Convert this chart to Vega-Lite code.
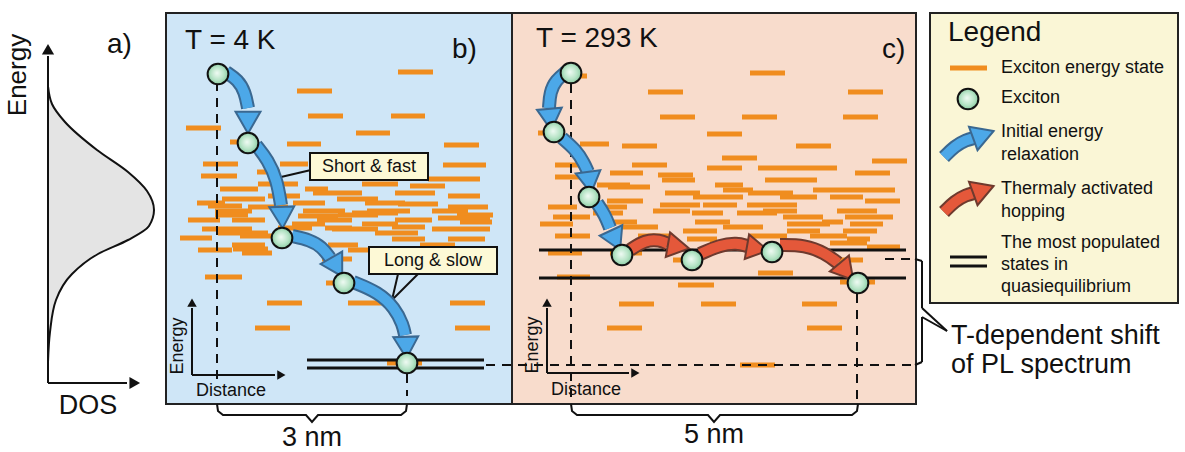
{
"$schema": "https://vega.github.io/schema/vega-lite/v6.json",
"width": 1185, "height": 452, "padding": 0, "autosize": {"type": "none"},
"background": "#ffffff",
"config": {"view": {"stroke": null}, "text": {"font": "Liberation Sans", "color": "#111111"}},
"datasets": {
"rects": [
 {"x": 166, "x2": 512, "y": 13, "y2": 404, "k": "b"},
 {"x": 512, "x2": 916, "y": 13, "y2": 404, "k": "c"},
 {"x": 930, "x2": 1178, "y": 13, "y2": 303, "k": "l"}
],
"dos": [
 {"x": 48, "y": 86}, {"x": 52, "y": 104}, {"x": 65, "y": 122}, {"x": 97, "y": 150}, {"x": 128, "y": 172},
 {"x": 147, "y": 191}, {"x": 154, "y": 210}, {"x": 149, "y": 226}, {"x": 128, "y": 240}, {"x": 98, "y": 254},
 {"x": 72, "y": 274}, {"x": 56, "y": 300}, {"x": 50, "y": 332}, {"x": 48, "y": 362}
],
"dashes": [
 {"x":398,"x2":433,"y":72},{"x":297,"x2":332,"y":91},{"x":308,"x2":343,"y":116},{"x":391,"x2":425,"y":116},
 {"x":186,"x2":221,"y":128},{"x":356,"x2":390,"y":133},{"x":287,"x2":321,"y":144},{"x":444,"x2":479,"y":145},
 {"x":230,"x2":246,"y":142},{"x":203,"x2":238,"y":164},{"x":280,"x2":308,"y":164},{"x":443,"x2":486,"y":165},
 {"x":201,"x2":237,"y":176},{"x":257,"x2":280,"y":172},{"x":428,"x2":480,"y":179},{"x":258,"x2":298,"y":184},
 {"x":362,"x2":398,"y":184},{"x":220,"x2":258,"y":189},{"x":305,"x2":328,"y":189},{"x":313,"x2":362,"y":193},
 {"x":395,"x2":435,"y":193},{"x":448,"x2":480,"y":196},{"x":222,"x2":265,"y":199},{"x":337,"x2":378,"y":199},
 {"x":197,"x2":225,"y":203},{"x":293,"x2":325,"y":203},{"x":365,"x2":405,"y":203},{"x":398,"x2":438,"y":204},
 {"x":248,"x2":288,"y":207},{"x":448,"x2":488,"y":207},{"x":215,"x2":252,"y":211},{"x":303,"x2":345,"y":211},
 {"x":367,"x2":410,"y":211},{"x":432,"x2":468,"y":211},{"x":215,"x2":248,"y":215},{"x":338,"x2":378,"y":215},
 {"x":457,"x2":493,"y":215},{"x":188,"x2":220,"y":220},{"x":232,"x2":265,"y":220},{"x":317,"x2":352,"y":220},
 {"x":395,"x2":432,"y":220},{"x":292,"x2":325,"y":224},{"x":362,"x2":398,"y":224},{"x":202,"x2":252,"y":229},
 {"x":332,"x2":378,"y":229},{"x":432,"x2":490,"y":229},{"x":218,"x2":268,"y":233},{"x":375,"x2":418,"y":233},
 {"x":240,"x2":272,"y":236},{"x":392,"x2":425,"y":239},{"x":448,"x2":485,"y":239},{"x":232,"x2":265,"y":245},
 {"x":328,"x2":358,"y":245},{"x":198,"x2":232,"y":250},{"x":233,"x2":268,"y":249},{"x":348,"x2":385,"y":250},
 {"x":242,"x2":272,"y":253},{"x":322,"x2":352,"y":259},{"x":205,"x2":242,"y":277},{"x":326,"x2":342,"y":283},
 {"x":267,"x2":302,"y":303},{"x":348,"x2":385,"y":303},{"x":450,"x2":485,"y":303},{"x":255,"x2":290,"y":328},
 {"x":455,"x2":490,"y":328},{"x":387,"x2":422,"y":363},
 {"x":208,"x2":242,"y":206},{"x":298,"x2":338,"y":216},{"x":352,"x2":398,"y":213},{"x":438,"x2":490,"y":218},
 {"x":325,"x2":352,"y":228},{"x":392,"x2":425,"y":227},{"x":268,"x2":300,"y":196},{"x":410,"x2":445,"y":186},
 {"x":180,"x2":212,"y":238},{"x":460,"x2":492,"y":222},{"x":278,"x2":312,"y":228},{"x":420,"x2":455,"y":245},
 {"x":750,"x2":785,"y":73},{"x":648,"x2":683,"y":92},{"x":848,"x2":883,"y":92},{"x":660,"x2":695,"y":117},
 {"x":742,"x2":777,"y":117},{"x":843,"x2":878,"y":117},{"x":707,"x2":742,"y":134},{"x":573,"x2":587,"y":76},
 {"x":538,"x2":553,"y":133},{"x":580,"x2":609,"y":144},{"x":622,"x2":657,"y":146},{"x":796,"x2":831,"y":146},
 {"x":722,"x2":757,"y":158},{"x":872,"x2":907,"y":161},{"x":555,"x2":580,"y":165},{"x":632,"x2":667,"y":165},
 {"x":707,"x2":742,"y":168},{"x":758,"x2":793,"y":168},{"x":793,"x2":837,"y":168},{"x":610,"x2":643,"y":173},
 {"x":855,"x2":890,"y":173},{"x":658,"x2":693,"y":175},{"x":555,"x2":587,"y":177},{"x":662,"x2":695,"y":180},
 {"x":765,"x2":817,"y":180},{"x":597,"x2":630,"y":185},{"x":715,"x2":743,"y":185},{"x":608,"x2":650,"y":187},
 {"x":723,"x2":753,"y":190},{"x":813,"x2":860,"y":190},{"x":860,"x2":895,"y":190},{"x":665,"x2":700,"y":193},
 {"x":748,"x2":793,"y":193},{"x":693,"x2":743,"y":197},{"x":780,"x2":817,"y":197},{"x":830,"x2":863,"y":197},
 {"x":607,"x2":643,"y":201},{"x":865,"x2":900,"y":201},{"x":660,"x2":700,"y":205},{"x":703,"x2":737,"y":205},
 {"x":747,"x2":797,"y":205},{"x":548,"x2":577,"y":207},{"x":593,"x2":627,"y":207},{"x":653,"x2":690,"y":211},
 {"x":763,"x2":797,"y":211},{"x":837,"x2":877,"y":211},{"x":593,"x2":623,"y":213},{"x":692,"x2":723,"y":213},
 {"x":737,"x2":777,"y":213},{"x":553,"x2":590,"y":217},{"x":783,"x2":823,"y":217},{"x":845,"x2":893,"y":217},
 {"x":695,"x2":730,"y":222},{"x":603,"x2":637,"y":222},{"x":822,"x2":843,"y":222},{"x":540,"x2":573,"y":224},
 {"x":787,"x2":830,"y":224},{"x":850,"x2":883,"y":224},{"x":622,"x2":658,"y":227},{"x":723,"x2":763,"y":227},
 {"x":683,"x2":717,"y":231},{"x":787,"x2":820,"y":231},{"x":843,"x2":877,"y":231},{"x":555,"x2":590,"y":236},
 {"x":638,"x2":673,"y":236},{"x":750,"x2":787,"y":236},{"x":810,"x2":847,"y":236},{"x":687,"x2":717,"y":239},
 {"x":847,"x2":870,"y":239},{"x":830,"x2":867,"y":243},{"x":637,"x2":667,"y":243},{"x":710,"x2":750,"y":243},
 {"x":867,"x2":900,"y":247},{"x":548,"x2":582,"y":253},{"x":610,"x2":642,"y":253},{"x":830,"x2":863,"y":260},
 {"x":673,"x2":697,"y":260},{"x":758,"x2":793,"y":273},{"x":557,"x2":590,"y":277},{"x":840,"x2":875,"y":282},
 {"x":678,"x2":714,"y":285},{"x":619,"x2":654,"y":304},{"x":701,"x2":736,"y":304},{"x":802,"x2":837,"y":304},
 {"x":607,"x2":642,"y":328},{"x":807,"x2":842,"y":328},{"x":740,"x2":775,"y":365},
 {"x":950,"x2":987,"y":68}
],
"blacklines": [
 {"x":307,"x2":484,"y":360},{"x":307,"x2":484,"y":368},{"x":539,"x2":906,"y":250},{"x":539,"x2":906,"y":278},
 {"x":950,"x2":987,"y":257},{"x":950,"x2":987,"y":266}
],
"dashed": [
 {"x":217,"y":82,"x2":217,"y2":380},{"x":407,"y":374,"x2":407,"y2":396},{"x":571,"y":84,"x2":571,"y2":404},
 {"x":857,"y":294,"x2":857,"y2":404},{"x":486,"y":365,"x2":918,"y2":365},{"x":885,"y":259,"x2":916,"y2":259}
],
"segs": [
 {"x":48,"y":383,"x2":48,"y2":56},{"x":48,"y":383,"x2":127,"y2":383},
 {"x":192,"y":375,"x2":192,"y2":308},{"x":192,"y":375,"x2":275,"y2":375},
 {"x":547,"y":373,"x2":547,"y2":308},{"x":547,"y":373,"x2":629,"y2":373},
 {"x":915,"y":259,"x2":922,"y2":261},{"x":922,"y":261,"x2":922,"y2":308},{"x":922,"y":308,"x2":947,"y2":331},
 {"x":947,"y":331,"x2":922,"y2":317},{"x":922,"y":317,"x2":922,"y2":362},{"x":922,"y":362,"x2":915,"y2":365},
 {"x":311,"y":170,"x2":281,"y2":177},{"x":398,"y":274,"x2":392,"y2":300},{"x":392,"y":300,"x2":418,"y2":274}
],
"braces": [
 {"id":"b","i":0,"x":217,"y":404},{"id":"b","i":1,"x":218,"y":411},{"id":"b","i":2,"x":223,"y":415},{"id":"b","i":3,"x":306,"y":415},
 {"id":"b","i":4,"x":312,"y":422},{"id":"b","i":5,"x":318,"y":415},{"id":"b","i":6,"x":401,"y":415},{"id":"b","i":7,"x":406,"y":411},{"id":"b","i":8,"x":407,"y":404},
 {"id":"c","i":0,"x":571,"y":404},{"id":"c","i":1,"x":572,"y":411},{"id":"c","i":2,"x":577,"y":415},{"id":"c","i":3,"x":708,"y":415},
 {"id":"c","i":4,"x":714,"y":422},{"id":"c","i":5,"x":720,"y":415},{"id":"c","i":6,"x":852,"y":415},{"id":"c","i":7,"x":857,"y":411},{"id":"c","i":8,"x":858,"y":404}
],
"boxes": [
 {"x":310,"x2":428,"y":153,"y2":180},{"x":369,"x2":497,"y":247,"y2":274}
],
"shafts": [
 {"id":"b1","t":"blue","i":0,"x":226,"y":72},{"id":"b1","t":"blue","i":1,"x":238,"y":80},{"id":"b1","t":"blue","i":2,"x":245,"y":92},{"id":"b1","t":"blue","i":3,"x":248,"y":108},
 {"id":"b2","t":"blue","i":0,"x":256,"y":145},{"id":"b2","t":"blue","i":1,"x":268,"y":160},{"id":"b2","t":"blue","i":2,"x":277,"y":180},{"id":"b2","t":"blue","i":3,"x":281,"y":205},
 {"id":"b3","t":"blue","i":0,"x":292,"y":236},{"id":"b3","t":"blue","i":1,"x":310,"y":240},{"id":"b3","t":"blue","i":2,"x":322,"y":247},{"id":"b3","t":"blue","i":3,"x":330,"y":258},
 {"id":"b4","t":"blue","i":0,"x":353,"y":282},{"id":"b4","t":"blue","i":1,"x":378,"y":292},{"id":"b4","t":"blue","i":2,"x":395,"y":308},{"id":"b4","t":"blue","i":3,"x":403,"y":325},{"id":"b4","t":"blue","i":4,"x":405,"y":335},
 {"id":"c1","t":"blue","i":0,"x":566,"y":72},{"id":"c1","t":"blue","i":1,"x":556,"y":80},{"id":"c1","t":"blue","i":2,"x":550,"y":92},{"id":"c1","t":"blue","i":3,"x":549,"y":108},
 {"id":"c2","t":"blue","i":0,"x":562,"y":138},{"id":"c2","t":"blue","i":1,"x":576,"y":150},{"id":"c2","t":"blue","i":2,"x":584,"y":163},{"id":"c2","t":"blue","i":3,"x":588,"y":172},
 {"id":"c3","t":"blue","i":0,"x":597,"y":203},{"id":"c3","t":"blue","i":1,"x":605,"y":215},{"id":"c3","t":"blue","i":2,"x":610,"y":228},
 {"id":"r1","t":"red","i":0,"x":630,"y":250},{"id":"r1","t":"red","i":1,"x":645,"y":240},{"id":"r1","t":"red","i":2,"x":660,"y":240},{"id":"r1","t":"red","i":3,"x":668,"y":244},
 {"id":"r2","t":"red","i":0,"x":700,"y":254},{"id":"r2","t":"red","i":1,"x":720,"y":245},{"id":"r2","t":"red","i":2,"x":737,"y":243},{"id":"r2","t":"red","i":3,"x":747,"y":246},
 {"id":"r3","t":"red","i":0,"x":780,"y":245},{"id":"r3","t":"red","i":1,"x":805,"y":245},{"id":"r3","t":"red","i":2,"x":825,"y":253},{"id":"r3","t":"red","i":3,"x":838,"y":263},
 {"id":"lb","t":"blue","i":0,"x":944,"y":157},{"id":"lb","t":"blue","i":1,"x":955,"y":146},{"id":"lb","t":"blue","i":2,"x":966,"y":140},{"id":"lb","t":"blue","i":3,"x":974,"y":138},
 {"id":"lr","t":"red","i":0,"x":944,"y":212},{"id":"lr","t":"red","i":1,"x":955,"y":201},{"id":"lr","t":"red","i":2,"x":966,"y":195},{"id":"lr","t":"red","i":3,"x":974,"y":193}
],
"heads": [
 {"x":248,"y":119,"a":180,"t":"blue"},{"x":282,"y":214,"a":178,"t":"blue"},{"x":335,"y":264,"a":150,"t":"blue"},
 {"x":406,"y":344,"a":178,"t":"blue"},{"x":550,"y":116,"a":175,"t":"blue"},{"x":589,"y":179,"a":172,"t":"blue"},
 {"x":614,"y":237,"a":155,"t":"blue"},{"x":675,"y":246,"a":100,"t":"red"},{"x":754,"y":248,"a":100,"t":"red"},
 {"x":844,"y":269,"a":140,"t":"red"},{"x":980,"y":136,"a":70,"t":"blue"},{"x":980,"y":191,"a":70,"t":"red"}
],
"tips": [
 {"x":48,"y":51,"a":0,"s":150},{"x":133,"y":383,"a":90,"s":150},{"x":192,"y":304,"a":0,"s":90},
 {"x":280,"y":375,"a":90,"s":90},{"x":547,"y":304,"a":0,"s":90},{"x":634,"y":373,"a":90,"s":90}
],
"excitons": [
 {"x":218,"y":74},{"x":248,"y":143},{"x":282,"y":238},{"x":344,"y":283},{"x":407,"y":363},
 {"x":571,"y":73},{"x":554,"y":132},{"x":589,"y":197},{"x":622,"y":255},{"x":692,"y":260},{"x":772,"y":252},{"x":858,"y":283},
 {"x":968,"y":99}
],
"ltext": [
 {"x":185,"y":41,"s":28,"t":"T = 4 K"},{"x":452,"y":50,"s":28,"t":"b)"},{"x":536,"y":39,"s":28,"t":"T = 293 K"},
 {"x":882,"y":50,"s":28,"t":"c)"},{"x":107,"y":45,"s":28,"t":"a)"},{"x":948,"y":33,"s":28,"t":"Legend"},
 {"x":1001,"y":68,"s":18,"t":"Exciton energy state"},{"x":1001,"y":98,"s":18,"t":"Exciton"},
 {"x":1001,"y":132,"s":18,"t":"Initial energy"},{"x":1001,"y":155,"s":18,"t":"relaxation"},
 {"x":1001,"y":189,"s":18,"t":"Thermaly activated"},{"x":1001,"y":212,"s":18,"t":"hopping"},
 {"x":1001,"y":243,"s":18,"t":"The most populated"},{"x":1001,"y":265,"s":18,"t":"states in"},
 {"x":1001,"y":287,"s":18,"t":"quasiequilibrium"},
 {"x":951,"y":336,"s":27,"t":"T-dependent shift"},{"x":951,"y":365,"s":27,"t":"of PL spectrum"}
],
"ctext": [
 {"x":88,"y":406,"s":27,"t":"DOS"},{"x":312,"y":438,"s":27,"t":"3 nm"},{"x":714,"y":435,"s":27,"t":"5 nm"},
 {"x":369,"y":167,"s":18,"t":"Short & fast"},{"x":433,"y":261,"s":18,"t":"Long & slow"},
 {"x":231,"y":391,"s":18,"t":"Distance"},{"x":586,"y":390,"s":18,"t":"Distance"}
],
"rtext": [
 {"x":18,"y":75,"s":26,"t":"Energy"},{"x":178,"y":346,"s":18,"t":"Energy"},{"x":533,"y":345,"s":18,"t":"Energy"}
]
},
"layer": [
 {"data": {"name": "rects"}, "mark": {"type": "rect", "stroke": "#222222", "strokeWidth": 2},
  "encoding": {
   "x": {"field": "x", "type": "quantitative", "scale": {"domain": [0, 1185], "nice": false, "zero": false}, "axis": null},
   "x2": {"field": "x2"},
   "y": {"field": "y", "type": "quantitative", "scale": {"domain": [0, 452], "nice": false, "zero": false, "reverse": true}, "axis": null},
   "y2": {"field": "y2"},
   "fill": {"field": "k", "type": "nominal", "scale": {"domain": ["b", "c", "l"], "range": ["#cfe6f7", "#f8dccc", "#faf6d6"]}, "legend": null}
  }},
 {"data": {"name": "dos"}, "mark": {"type": "area", "orient": "horizontal", "interpolate": "monotone", "fill": "#e4e4e4", "stroke": "#111111", "strokeWidth": 2},
  "encoding": {
   "x": {"field": "x", "type": "quantitative", "axis": null},
   "x2": {"datum": 48},
   "y": {"field": "y", "type": "quantitative", "axis": null}
  }},
 {"data": {"name": "dashes"}, "mark": {"type": "rule", "color": "#f08d1f", "strokeWidth": 5},
  "encoding": {
   "x": {"field": "x", "type": "quantitative", "axis": null}, "x2": {"field": "x2"},
   "y": {"field": "y", "type": "quantitative", "axis": null}
  }},
 {"data": {"name": "blacklines"}, "mark": {"type": "rule", "color": "#111111", "strokeWidth": 3},
  "encoding": {
   "x": {"field": "x", "type": "quantitative", "axis": null}, "x2": {"field": "x2"},
   "y": {"field": "y", "type": "quantitative", "axis": null}
  }},
 {"data": {"name": "dashed"}, "mark": {"type": "rule", "color": "#111111", "strokeWidth": 2, "strokeDash": [9, 7]},
  "encoding": {
   "x": {"field": "x", "type": "quantitative", "axis": null}, "x2": {"field": "x2"},
   "y": {"field": "y", "type": "quantitative", "axis": null}, "y2": {"field": "y2"}
  }},
 {"data": {"name": "segs"}, "mark": {"type": "rule", "color": "#111111", "strokeWidth": 2},
  "encoding": {
   "x": {"field": "x", "type": "quantitative", "axis": null}, "x2": {"field": "x2"},
   "y": {"field": "y", "type": "quantitative", "axis": null}, "y2": {"field": "y2"}
  }},
 {"data": {"name": "braces"}, "mark": {"type": "line", "color": "#111111", "strokeWidth": 2, "interpolate": "linear"},
  "encoding": {
   "x": {"field": "x", "type": "quantitative", "axis": null},
   "y": {"field": "y", "type": "quantitative", "axis": null},
   "detail": {"field": "id"}, "order": {"field": "i"}
  }},
 {"data": {"name": "boxes"}, "mark": {"type": "rect", "fill": "#fdf9d6", "stroke": "#111111", "strokeWidth": 2},
  "encoding": {
   "x": {"field": "x", "type": "quantitative", "axis": null}, "x2": {"field": "x2"},
   "y": {"field": "y", "type": "quantitative", "axis": null}, "y2": {"field": "y2"}
  }},
 {"data": {"name": "shafts"}, "transform": [{"filter": "datum.t === 'blue'"}],
  "mark": {"type": "line", "strokeWidth": 14, "interpolate": "basis", "strokeCap": "butt", "color": "#3a6891"},
  "encoding": {
   "x": {"field": "x", "type": "quantitative", "axis": null},
   "y": {"field": "y", "type": "quantitative", "axis": null},
   "detail": {"field": "id"}, "order": {"field": "i"}
  }},
 {"data": {"name": "shafts"}, "transform": [{"filter": "datum.t === 'blue'"}],
  "mark": {"type": "line", "strokeWidth": 10, "interpolate": "basis", "strokeCap": "butt", "color": "#4ca8e8"},
  "encoding": {
   "x": {"field": "x", "type": "quantitative", "axis": null},
   "y": {"field": "y", "type": "quantitative", "axis": null},
   "detail": {"field": "id"}, "order": {"field": "i"}
  }},
 {"data": {"name": "shafts"}, "transform": [{"filter": "datum.t === 'red'"}],
  "mark": {"type": "line", "strokeWidth": 14, "interpolate": "basis", "strokeCap": "butt", "color": "#6e3a2e"},
  "encoding": {
   "x": {"field": "x", "type": "quantitative", "axis": null},
   "y": {"field": "y", "type": "quantitative", "axis": null},
   "detail": {"field": "id"}, "order": {"field": "i"}
  }},
 {"data": {"name": "shafts"}, "transform": [{"filter": "datum.t === 'red'"}],
  "mark": {"type": "line", "strokeWidth": 10, "interpolate": "basis", "strokeCap": "butt", "color": "#e4583a"},
  "encoding": {
   "x": {"field": "x", "type": "quantitative", "axis": null},
   "y": {"field": "y", "type": "quantitative", "axis": null},
   "detail": {"field": "id"}, "order": {"field": "i"}
  }},
 {"data": {"name": "heads"}, "transform": [{"filter": "datum.t === 'blue'"}],
  "mark": {"type": "point", "shape": "triangle", "filled": true, "size": 620, "strokeWidth": 2, "opacity": 1, "fill": "#4ca8e8", "stroke": "#3a6891"},
  "encoding": {
   "x": {"field": "x", "type": "quantitative", "axis": null},
   "y": {"field": "y", "type": "quantitative", "axis": null},
   "angle": {"field": "a", "type": "quantitative", "scale": null}
  }},
 {"data": {"name": "heads"}, "transform": [{"filter": "datum.t === 'red'"}],
  "mark": {"type": "point", "shape": "triangle", "filled": true, "size": 620, "strokeWidth": 2, "opacity": 1, "fill": "#e4583a", "stroke": "#6e3a2e"},
  "encoding": {
   "x": {"field": "x", "type": "quantitative", "axis": null},
   "y": {"field": "y", "type": "quantitative", "axis": null},
   "angle": {"field": "a", "type": "quantitative", "scale": null}
  }},
 {"data": {"name": "tips"}, "mark": {"type": "point", "shape": "triangle", "filled": true, "color": "#111111", "opacity": 1},
  "encoding": {
   "x": {"field": "x", "type": "quantitative", "axis": null},
   "y": {"field": "y", "type": "quantitative", "axis": null},
   "angle": {"field": "a", "type": "quantitative", "scale": null},
   "size": {"field": "s", "type": "quantitative", "scale": null}
  }},
 {"data": {"name": "excitons"}, "mark": {"type": "point", "shape": "circle", "size": 430, "opacity": 1, "strokeWidth": 2, "stroke": "#111111",
   "fill": {"gradient": "radial", "x1": 0.45, "y1": 0.45, "r1": 0, "x2": 0.5, "y2": 0.5, "r2": 0.55,
     "stops": [{"offset": 0, "color": "#f0fbf4"}, {"offset": 0.6, "color": "#b5e3c5"}, {"offset": 1, "color": "#7fc69a"}]}},
  "encoding": {
   "x": {"field": "x", "type": "quantitative", "axis": null},
   "y": {"field": "y", "type": "quantitative", "axis": null}
  }},
 {"data": {"name": "ltext"}, "mark": {"type": "text", "align": "left", "baseline": "middle"},
  "encoding": {
   "x": {"field": "x", "type": "quantitative", "axis": null},
   "y": {"field": "y", "type": "quantitative", "axis": null},
   "text": {"field": "t"}, "size": {"field": "s", "type": "quantitative", "scale": null}
  }},
 {"data": {"name": "ctext"}, "mark": {"type": "text", "align": "center", "baseline": "middle"},
  "encoding": {
   "x": {"field": "x", "type": "quantitative", "axis": null},
   "y": {"field": "y", "type": "quantitative", "axis": null},
   "text": {"field": "t"}, "size": {"field": "s", "type": "quantitative", "scale": null}
  }},
 {"data": {"name": "rtext"}, "mark": {"type": "text", "align": "center", "baseline": "middle", "angle": 270},
  "encoding": {
   "x": {"field": "x", "type": "quantitative", "axis": null},
   "y": {"field": "y", "type": "quantitative", "axis": null},
   "text": {"field": "t"}, "size": {"field": "s", "type": "quantitative", "scale": null}
  }}
]
}
